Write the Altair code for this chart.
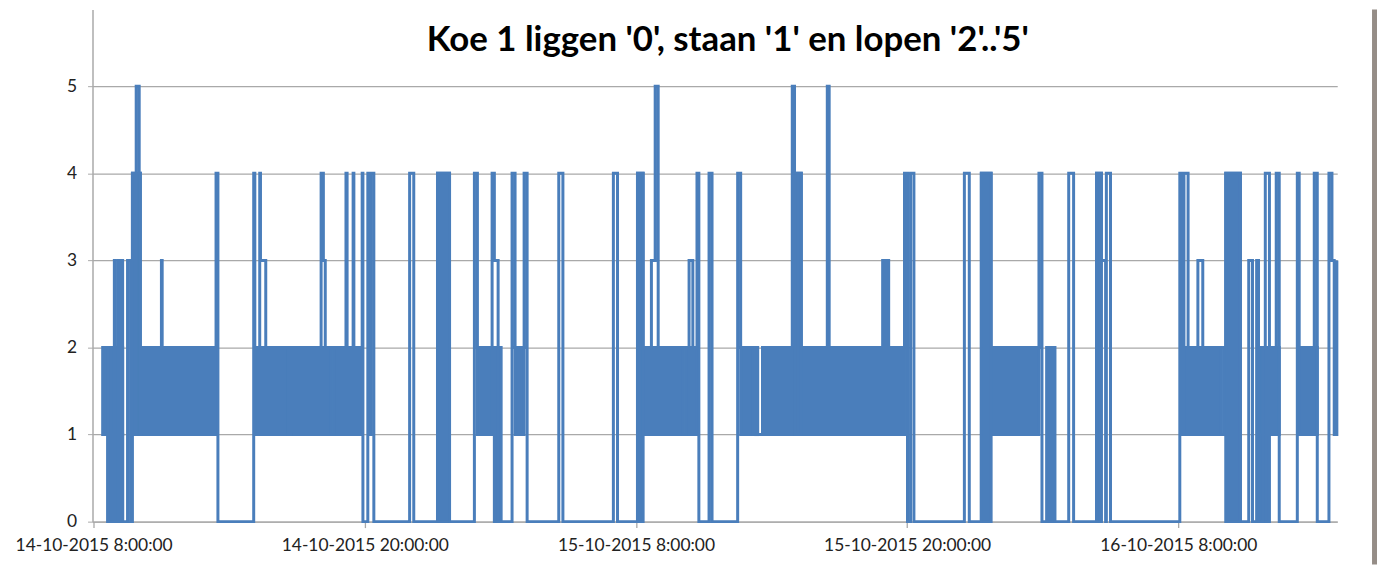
import altair as alt
import pandas as pd

# ---- data -----------------------------------------------------------------
# step trace: (day of Oct 2015, clock time, state)
step_day = [14]*46 + [15]*50 + [16]*39
step_time = [
    "08:24","08:37","08:55","08:58","09:06","09:09","09:14","09:17","09:30","09:38",
    "09:43","09:51","09:53","10:01","10:04","10:07","11:00","11:02","13:25","13:30",
    "15:05","15:08","15:21","15:23","15:37","16:37","16:45","18:04","18:10","18:15",
    "18:31","18:39","19:10","19:13","19:29","19:31","19:53","19:55","20:08","20:11",
    "20:16","20:24","21:59","22:10","23:13","23:45",
    "00:51","00:59","01:38","01:44","01:54","02:31","02:39","03:03","03:11","04:35",
    "04:46","07:00","07:11","08:04","08:19","08:41","08:51","08:59","10:05","10:13",
    "10:21","10:31","10:42","10:47","11:14","11:22","12:30","12:38","13:10","13:18",
    "13:23","13:36","14:55","15:01","15:19","16:28","16:33","18:55","19:01","19:06",
    "19:11","19:53","20:01","20:09","20:18","22:32","22:45","23:17","23:43","23:59",
    "01:50","01:58","02:11","02:32","03:09","03:22","04:23","04:36","04:47","04:49",
    "05:00","08:04","08:10","08:15","08:26","08:52","09:05","09:53","10:01","10:06",
    "10:45","11:07","11:17","11:28","11:33","11:44","11:51","12:02","12:20","12:28",
    "13:16","13:21","14:01","14:09","14:40","14:48","14:54","15:01",
]
step_value = [
    2,1,3,0,3,0,3,0,3,0,
    4,1,5,4,1,2,3,2,4,0,
    4,2,4,3,2,1,2,4,3,2,
    1,2,4,2,4,2,4,0,4,1,
    4,0,4,0,4,0,
    4,2,4,3,0,4,2,4,0,4,
    0,4,0,4,2,3,5,2,1,2,
    3,2,4,0,4,0,4,2,1,2,
    1,2,5,4,2,5,2,3,2,3,
    2,4,0,4,0,4,0,4,2,2,
    4,0,2,0,4,0,4,3,0,4,
    0,4,1,4,2,3,2,1,2,4,
    0,3,0,3,0,2,4,2,4,0,
    4,2,4,0,4,3,1,3,
]
# fast-switching stretches (the trace flips between two states too often to resolve)
band_start = ["14T08:24","14T08:37","14T09:43","14T10:07","14T15:08","14T16:45","14T18:39",
              "14T23:13","15T00:59","15T01:44","15T02:39","15T08:04","15T08:19","15T10:13",
              "15T12:38","15T13:18","15T13:36","15T15:01","15T23:17","15T23:43","16T02:11",
              "16T04:23","16T08:10","16T10:06","16T11:33","16T11:38","16T13:21"]
band_end = ["14T09:17","14T09:17","14T10:04","14T13:25","14T16:37","14T18:31","14T19:53",
            "14T23:45","15T01:38","15T02:02","15T03:03","15T08:19","15T10:05","15T10:42",
            "15T13:10","15T13:23","15T19:53","15T15:19","15T23:43","16T01:50","16T02:32",
            "16T04:36","16T09:53","16T10:45","16T12:28","16T12:02","16T14:09"]
band_low = [1,0,1,1,1,1,1, 0,1,0,1,0,1,1, 1,1,1,1,0,1,0, 0,1,0,1,0,1]
band_high = [2,1,4,2,2,2,2, 4,2,2,2,4,2,2, 2,2,2,4,4,2,2, 4,2,4,2,1,2]

tick_days = [14, 14, 15, 15, 16]
tick_hours = [8, 20, 8, 20, 8]
y_ticks = [0, 1, 2, 3, 4, 5]

TITLE = "Koe 1 liggen '0', staan '1' en lopen '2'..'5'"
BLUE = "#4A7EBB"
GRID = "#A9A9A9"

steps = pd.DataFrame({
    "t": [f"2015-10-{d}T{hm}:00" for d, hm in zip(step_day, step_time)],
    "v": step_value,
})
bands = pd.DataFrame({
    "t0": [f"2015-10-{s}:00" for s in band_start],
    "t1": [f"2015-10-{s}:00" for s in band_end],
    "lo": band_low,
    "hi": band_high,
})

x_scale = alt.Scale(domain=[alt.DateTime(year=2015, month=10, date=14, hours=7, minutes=57),
                            alt.DateTime(year=2015, month=10, date=16, hours=15, minutes=2)])
y_scale = alt.Scale(domain=[0, 5.88], nice=False)

x_axis = alt.Axis(
    values=[alt.DateTime(year=2015, month=10, date=d, hours=h) for d, h in zip(tick_days, tick_hours)],
    format="%d-%m-%Y %-H:%M:%S", grid=False, tickSize=6, tickColor=GRID, tickWidth=1.3,
    domainColor=GRID, domainWidth=1.5, labelFont="Lato", labelFontSize=17.5, labelColor="#222",
    labelPadding=9, labelFlush=False, labelOverlap=False, title=None,
)
y_axis = alt.Axis(
    values=y_ticks, grid=True, gridColor=GRID, gridWidth=1.4, tickSize=5, tickColor=GRID,
    domainColor=GRID, domainWidth=1.5, labelFont="Lato", labelFontSize=17.5, labelColor="#222",
    labelPadding=11, title=None,
)

band_layer = alt.Chart(bands).mark_rect(color=BLUE, stroke=BLUE, strokeWidth=3).encode(
    x=alt.X("t0:T", scale=x_scale, axis=x_axis),
    x2="t1:T",
    y=alt.Y("lo:Q", scale=y_scale, axis=y_axis),
    y2="hi:Q",
)
line_layer = alt.Chart(steps).mark_line(interpolate="step-after", color=BLUE, strokeWidth=3).encode(
    x=alt.X("t:T", scale=x_scale, axis=x_axis),
    y=alt.Y("v:Q", scale=y_scale, axis=y_axis),
)
frame = alt.Chart(alt.Data(values=[{"k": 1}])).mark_rect(color="#958D87").encode(
    x=alt.value(1287), x2=alt.value(1300), y=alt.value(0), y2=alt.value(558)
)
title_layer = alt.Chart(alt.Data(values=[{"k": 1}])).mark_text(
    font="Lato", fontSize=35, fontWeight="bold", color="black", align="center", baseline="alphabetic"
).encode(x=alt.value(639), y=alt.value(42), text=alt.value(TITLE))

chart = alt.layer(band_layer, line_layer, frame, title_layer).properties(
    width=1252, height=515,
    padding={"left": 85, "top": 0, "right": 40, "bottom": 43},
    autosize=alt.AutoSizeParams(type="none"),
    background="white",
).configure_view(stroke=None)

chart.save("out.html", embed_options={"renderer": "svg", "actions": False})
